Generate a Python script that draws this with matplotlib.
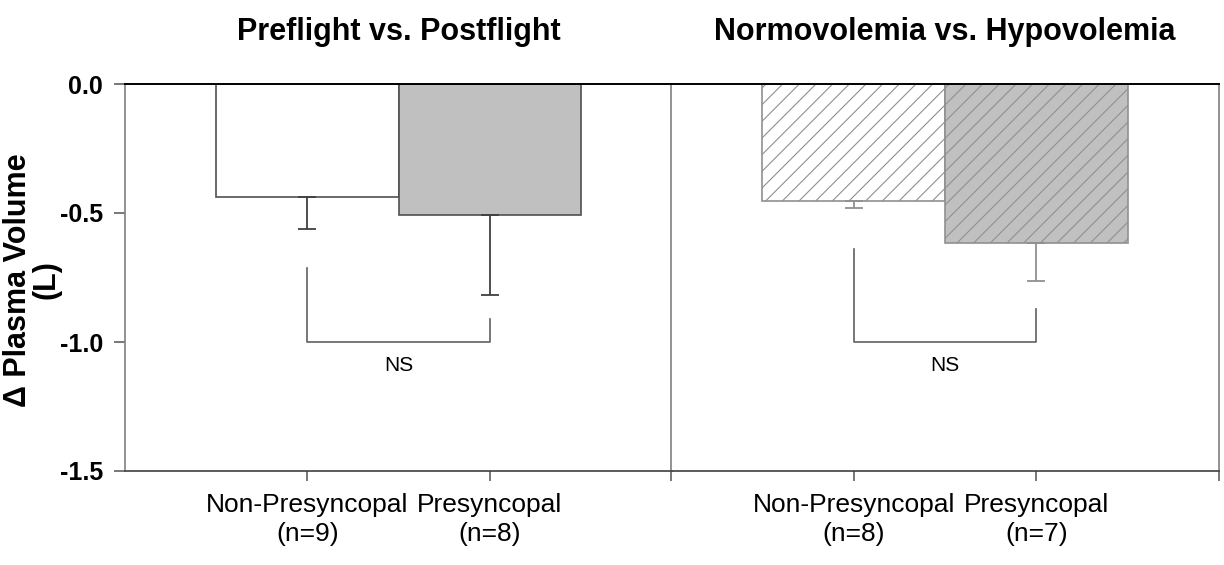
import matplotlib
matplotlib.use("Agg")
import matplotlib.pyplot as plt

plt.rcParams['font.family'] = ['Liberation Sans', 'DejaVu Sans']
plt.rcParams['hatch.linewidth'] = 0.8

# left panel: preflight vs postflight
flight_labels = ['Non-Presyncopal\n(n=9)', 'Presyncopal\n(n=8)']
flight_mean = [-0.437, -0.509]
flight_err = [0.124, 0.309]
flight_bracket = [-0.713, -0.911]

# right panel: normovolemia vs hypovolemia
vol_labels = ['Non-Presyncopal\n(n=8)', 'Presyncopal\n(n=7)']
vol_mean = [-0.455, -0.617]
vol_err = [0.024, 0.145]
vol_bracket = [-0.641, -0.872]

bracket_y = -1.0
ns_y = -1.09
yticks = [0.0, -0.5, -1.0, -1.5]

fig = plt.figure(figsize=(12.24, 5.65), dpi=100)
ax1 = fig.add_axes([125 / 1224, 94 / 565, 547 / 1224, 387 / 565])
ax2 = fig.add_axes([671 / 1224, 94 / 565, 548 / 1224, 387 / 565])


def draw_panel(ax, means, errs, bracket, hatch, edge, errc):
    x = [0, 1]
    ax.bar(x, means, width=1.0, color=['white', '#c0c0c0'],
           edgecolor=edge, linewidth=1.2, hatch=hatch, zorder=2)
    ax.errorbar(x, means, yerr=[errs, [0, 0]], fmt='none', ecolor=errc,
                elinewidth=1.3, capsize=6.5, capthick=1.3, zorder=3)
    # significance bracket
    ax.plot([0, 0, 1, 1], [bracket[0], bracket_y, bracket_y, bracket[1]],
            color='#606060', lw=1.2, zorder=3)
    ax.text(0.5, ns_y, 'NS', ha='center', va='center', fontsize=15)
    ax.set_xlim(-1, 2)
    ax.set_ylim(-1.5, 0)
    ax.spines['top'].set_color('black')
    ax.spines['top'].set_linewidth(1.4)
    ax.spines['bottom'].set_color('#404040')
    ax.spines['bottom'].set_linewidth(1.2)
    for s in ['left', 'right']:
        ax.spines[s].set_color('#808080')
        ax.spines[s].set_linewidth(1.2)


draw_panel(ax1, flight_mean, flight_err, flight_bracket,
           None, '#505050', '#404040')
draw_panel(ax2, vol_mean, vol_err, vol_bracket,
           '//', '#909090', '#909090')

ax1.set_yticks(yticks)
ax1.set_yticklabels(['%.1f' % v for v in yticks], fontsize=18,
                    fontweight='bold')
ax1.tick_params(axis='y', length=8, width=1.2, color='#606060', pad=8)
ax1.set_xticks([0, 1])
ax1.set_xticklabels(flight_labels, fontsize=19, linespacing=1.25)
ax1.tick_params(axis='x', length=7, width=1.2, color='#606060', pad=9)

ax2.set_xticks([-1, 0, 1, 2])
ax2.set_xticklabels([''] + vol_labels + [''], fontsize=19, linespacing=1.25)
ax2.tick_params(axis='x', length=7, width=1.2, color='#606060', pad=9)
ax2.tick_params(axis='y', left=False, labelleft=False)

ax1.set_title('Preflight vs. Postflight', fontsize=22, fontweight='bold',
              pad=32)
ax2.set_title('Normovolemia vs. Hypovolemia', fontsize=22,
              fontweight='bold', pad=32)

fig.text(32 / 1224, 1 - 280 / 565, '\u0394 Plasma Volume\n(L)', rotation=90,
         ha='center', va='center', fontsize=22, fontweight='bold',
         linespacing=0.95)

fig.savefig('out.png', dpi=100)
